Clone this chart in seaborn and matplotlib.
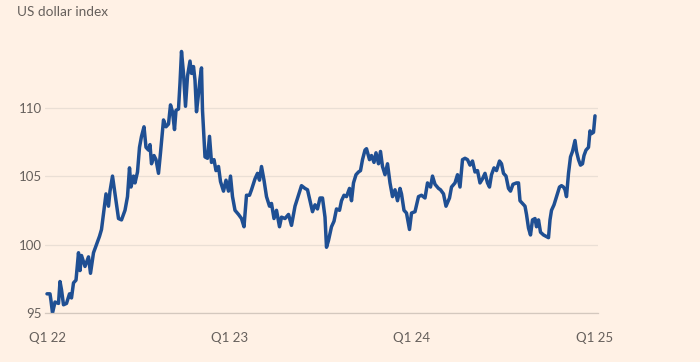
import numpy as np
import pandas as pd
import matplotlib
matplotlib.use("Agg")
import matplotlib.pyplot as plt
import matplotlib.dates as mdates
import seaborn as sns

# days since 2022-01-01 and the index value
days = [
    0, 6, 8, 11, 16, 23, 26, 29, 33, 39, 45, 49, 53, 58, 63, 66, 69, 76, 83, 87,
    93, 99, 105, 109, 115, 118, 123, 126, 131, 136, 143, 149, 156, 161, 165, 168,
    173, 176, 181, 185, 189, 194, 198, 203, 206, 209, 214, 218, 223, 227, 233,
    238, 243, 247, 251, 255, 258, 263, 266, 269, 273, 277, 281, 286, 289, 293,
    296, 299, 303, 306, 309, 311, 316, 321, 325, 329, 334, 338, 343, 347, 353,
    358, 363, 367, 371, 376, 383, 389, 394, 399, 405, 409, 416, 421, 425, 429,
    434, 439, 445, 449, 454, 459, 465, 469, 476, 483, 489, 496, 503, 509, 516,
    521, 526, 531, 536, 541, 546, 551, 556, 559, 563, 569, 574, 579, 585, 589,
    594, 599, 605, 609, 613, 618, 623, 627, 631, 636, 639, 645, 649, 654, 658,
    663, 667, 671, 676, 681, 686, 691, 696, 701, 706, 709, 714, 719, 725, 729,
    736, 743, 749, 756, 761, 767, 771, 776, 783, 787, 793, 798, 805, 809, 816,
    821, 826, 831, 836, 841, 846, 851, 856, 861, 866, 871, 876, 881, 885, 889,
    894, 899, 905, 909, 913, 918, 923, 927, 932, 939, 943, 946, 951, 956, 959,
    963, 967, 971, 976, 979, 983, 987, 993, 998, 1003, 1006, 1009, 1014, 1019,
    1025, 1029, 1033, 1036, 1039, 1043, 1047, 1051, 1056, 1059, 1063, 1067,
    1071, 1074, 1078, 1083, 1086, 1089, 1093, 1096,
]
dxy = [
    96.4, 96.4, 95.9, 95.0, 95.8, 95.7, 97.3, 96.7, 95.6, 95.7, 96.4, 96.1, 97.2,
    97.4, 99.4, 98.1, 99.2, 98.4, 99.1, 97.9, 99.4, 100.0, 100.6, 101.1, 102.8,
    103.7, 102.8, 103.9, 105.0, 103.7, 101.9, 101.8, 102.5, 103.5, 105.6, 104.2,
    105.0, 104.5, 105.3, 107.1, 107.9, 108.6, 107.1, 106.9, 107.3, 105.9, 106.5,
    106.2, 105.2, 106.7, 109.1, 108.6, 108.8, 110.2, 109.7, 108.4, 109.8, 109.9,
    111.8, 114.1, 112.5, 110.1, 112.3, 113.4, 112.5, 113.0, 112.0, 109.7, 111.0,
    112.1, 112.9, 109.8, 106.4, 106.3, 107.9, 106.0, 106.2, 105.4, 105.7, 104.6,
    103.9, 104.7, 103.9, 105.0, 103.5, 102.5, 102.2, 101.9, 101.3, 103.6, 103.6,
    104.0, 104.8, 105.2, 104.7, 105.7, 104.7, 103.5, 102.8, 103.0, 101.9, 102.5,
    101.3, 102.0, 101.9, 102.2, 101.4, 102.8, 103.6, 104.3, 104.1, 104.0, 103.2,
    102.4, 102.9, 102.6, 103.4, 103.4, 102.0, 99.8, 100.3, 101.3, 101.7, 102.6,
    102.5, 103.2, 103.6, 103.5, 104.1, 103.2, 104.5, 105.1, 105.3, 105.4, 106.2,
    106.9, 107.0, 106.2, 106.5, 106.0, 106.7, 105.9, 106.8, 105.7, 105.1, 105.9,
    104.5, 103.5, 104.0, 103.2, 104.1, 103.7, 102.5, 102.3, 101.1, 102.3, 102.4,
    103.5, 103.6, 103.4, 104.5, 104.2, 105.0, 104.4, 104.1, 104.0, 103.7, 102.8,
    103.4, 104.2, 104.5, 105.1, 104.2, 106.2, 106.3, 106.2, 105.8, 106.1, 105.3,
    105.4, 104.5, 104.8, 105.2, 104.5, 104.2, 105.1, 105.6, 105.4, 106.1, 105.9,
    105.2, 105.0, 104.1, 103.9, 104.4, 104.5, 104.5, 103.2, 103.0, 102.8, 102.2,
    101.2, 100.7, 101.8, 101.9, 101.3, 101.8, 100.9, 100.7, 100.6, 100.5, 101.8,
    102.5, 102.9, 103.5, 104.2, 104.3, 104.2, 104.0, 103.5, 105.2, 106.4, 106.8,
    107.6, 106.8, 106.2, 105.8, 105.9, 106.5, 106.9, 107.1, 108.3, 108.1, 108.2,
    109.4,
]
y_ticks = [95, 100, 105, 110]
title = "US dollar index"

BG = "#fff1e5"
LINE = "#1f4f93"
TEXT = "#66605c"
GRID = "#eadfd5"
TICK = "#d4c8be"


def main():
    start = pd.Timestamp("2022-01-01")
    df = pd.DataFrame({
        "date": start + pd.to_timedelta(days, unit="D"),
        "value": dxy,
    })

    sns.set_style("white")
    plt.rcParams["font.family"] = ["Lato", "DejaVu Sans"]

    fig = plt.figure(figsize=(7, 3.62), dpi=100, facecolor=BG)
    ax = fig.add_axes([45 / 700, 49 / 362, 553 / 700, 293 / 362])
    ax.set_facecolor(BG)

    sns.lineplot(data=df, x="date", y="value", color=LINE, linewidth=2.5,
                 solid_joinstyle="round", solid_capstyle="round", ax=ax)

    ax.set_xlim(start - pd.Timedelta(days=4), start + pd.Timedelta(days=1102))
    ax.set_ylim(95, 116.4)
    ax.set_yticks(y_ticks)
    ax.yaxis.grid(True, color=GRID, linewidth=0.9)
    ax.set_axisbelow(True)

    for side in ["top", "right", "left"]:
        ax.spines[side].set_visible(False)
    ax.spines["bottom"].set_color(TICK)
    ax.spines["bottom"].set_linewidth(0.9)

    ax.xaxis.set_major_locator(mdates.YearLocator())
    ax.xaxis.set_major_formatter(mdates.DateFormatter("Q1 %y"))
    ax.xaxis.set_minor_locator(mdates.MonthLocator())
    ax.tick_params(axis="x", which="major", length=10, width=0.9, color=TICK,
                   labelsize=9.5, labelcolor=TEXT, pad=4)
    ax.tick_params(axis="x", which="minor", length=6, width=0.9, color=TICK)
    ax.tick_params(axis="y", length=0, labelsize=9.5, labelcolor=TEXT, pad=2)
    ax.set_xlabel("")
    ax.set_ylabel("")

    fig.text(17 / 700, 1 - 12 / 362, title, fontsize=9.8, color=TEXT,
             ha="left", va="center")

    fig.savefig("out.png", dpi=100, facecolor=BG)
    plt.close(fig)


if __name__ == "__main__":
    main()
